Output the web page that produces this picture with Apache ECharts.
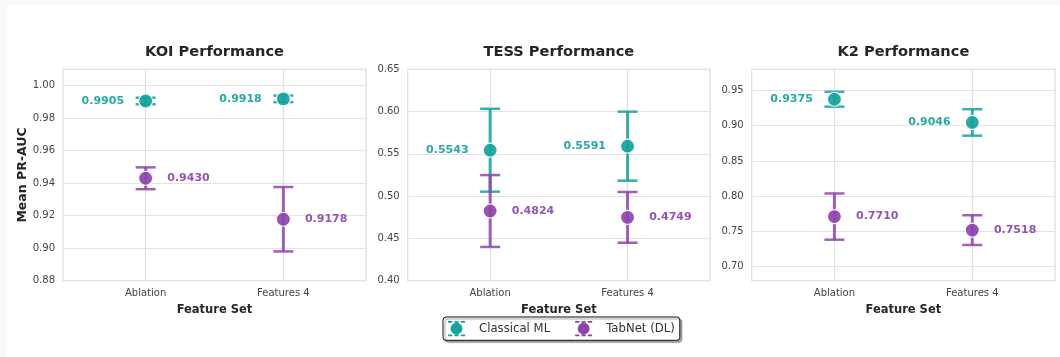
<!DOCTYPE html>
<html>
<head>
<meta charset="utf-8">
<script src="https://cdn.jsdelivr.net/npm/echarts@6/dist/echarts.min.js"></script>
<style>
  html, body { margin: 0; padding: 0; background: #f9f9f9; }
  #chart { position: absolute; left: 7px; top: 5px; width: 1053px; height: 352px; background: #ffffff; }
</style>
</head>
<body>
<div id="chart"></div>
<script>
// ---- data ----
const categories = ['Ablation', 'Features 4'];
const panelTitles = ['KOI Performance', 'TESS Performance', 'K2 Performance'];
const seriesNames = ['Classical ML', 'TabNet (DL)'];

const koiClassical = [0.9905, 0.9918];
const koiClassicalErr = [0.0020, 0.0020];
const koiTabnet = [0.9430, 0.9178];
const koiTabnetErr = [0.0067, 0.0198];

const tessClassical = [0.5543, 0.5591];
const tessClassicalErr = [0.0490, 0.0408];
const tessTabnet = [0.4824, 0.4749];
const tessTabnetErr = [0.0425, 0.0300];

const k2Classical = [0.9375, 0.9046];
const k2ClassicalErr = [0.0105, 0.0188];
const k2Tabnet = [0.7710, 0.7518];
const k2TabnetErr = [0.0328, 0.0211];

// y-axis ranges and tick steps: [min, max, step]
const koiYAxis = [0.88, 1.01, 0.02];
const tessYAxis = [0.40, 0.65, 0.05];
const k2YAxis = [0.68, 0.98, 0.05];

// ---- styling / layout ----
const TEAL = '#16a29d';
const PURPLE = '#8e44ad';
const FONT = 'DejaVu Sans';
const gridLefts = [56, 400.7, 744.7];
const gridWidths = [303, 302.3, 303.3];
const GRID_TOP = 64.3, GRID_H = 211.4;

const panels = [
  { cls: koiClassical, clsErr: koiClassicalErr, tab: koiTabnet, tabErr: koiTabnetErr, y: koiYAxis, fixedInterval: true },
  { cls: tessClassical, clsErr: tessClassicalErr, tab: tessTabnet, tabErr: tessTabnetErr, y: tessYAxis, fixedInterval: true },
  { cls: k2Classical, clsErr: k2ClassicalErr, tab: k2Tabnet, tabErr: k2TabnetErr, y: k2YAxis, fixedInterval: false }
];

const chart = echarts.init(document.getElementById('chart'), null, { renderer: 'canvas' });

const grids = [], xAxes = [], yAxes = [], titles = [], series = [];

function errRender(color) {
  return function (params, api) {
    const x = api.value(0), lo = api.value(1), hi = api.value(2);
    const pHi = api.coord([x, hi]);
    const pLo = api.coord([x, lo]);
    const cap = 10;
    return {
      type: 'group',
      children: [
        { type: 'line', shape: { x1: pHi[0], y1: pHi[1], x2: pLo[0], y2: pLo[1] }, style: { stroke: color, lineWidth: 3, opacity: 0.85 } },
        { type: 'line', shape: { x1: pHi[0] - cap, y1: pHi[1], x2: pHi[0] + cap, y2: pHi[1] }, style: { stroke: color, lineWidth: 2.5, opacity: 0.85 } },
        { type: 'line', shape: { x1: pLo[0] - cap, y1: pLo[1], x2: pLo[0] + cap, y2: pLo[1] }, style: { stroke: color, lineWidth: 2.5, opacity: 0.85 } }
      ]
    };
  };
}

panels.forEach((p, k) => {
  grids.push({ left: gridLefts[k], top: GRID_TOP, width: gridWidths[k], height: GRID_H,
    show: true, borderColor: '#dedede', borderWidth: 1.2, backgroundColor: 'transparent' });
  titles.push({ text: panelTitles[k], left: gridLefts[k] + gridWidths[k] / 2, top: 40, textAlign: 'center', padding: 0,
    textStyle: { fontFamily: FONT, fontSize: 14.6, fontWeight: 'bold', color: '#262626' } });
  xAxes.push({
    type: 'value', gridIndex: k, min: -0.6, max: 1.6, interval: 0.2,
    name: 'Feature Set', nameLocation: 'middle', nameGap: 18,
    nameTextStyle: { fontFamily: FONT, fontSize: 11.5, fontWeight: 'bold', color: '#262626' },
    axisLine: { show: false }, axisTick: { show: false }, splitLine: { show: false },
    axisLabel: { fontFamily: FONT, fontSize: 10, color: '#444', margin: 8,
      formatter: v => { const i = Math.round(v); return (Math.abs(v - i) < 1e-6 && categories[i]) ? categories[i] : ''; } }
  });
  const step = p.y[2];
  const yAx = {
    type: 'value', gridIndex: k, min: p.y[0], max: p.y[1],
    axisLine: { show: false }, axisTick: { show: false },
    splitLine: { show: true, lineStyle: { color: '#e3e3e3', width: 1.2 } },
    axisLabel: { fontFamily: FONT, fontSize: 10, color: '#444', margin: 8,
      formatter: v => { const r = Math.round(v / step); return Math.abs(v - r * step) < 1e-6 ? v.toFixed(2) : ''; } }
  };
  if (p.fixedInterval) yAx.interval = step;
  if (k === 0) {
    yAx.name = 'Mean PR-AUC';
    yAx.nameLocation = 'middle';
    yAx.nameGap = 33;
    yAx.nameTextStyle = { fontFamily: FONT, fontSize: 12.5, fontWeight: 'bold', color: '#262626' };
  }
  yAxes.push(yAx);

  const groups = [
    { name: seriesNames[0], vals: p.cls, errs: p.clsErr, color: TEAL, labelPos: 'left' },
    { name: seriesNames[1], vals: p.tab, errs: p.tabErr, color: PURPLE, labelPos: 'right' }
  ];
  groups.forEach((g, gi) => {
    const errSeries = {
      name: g.name, type: 'custom', xAxisIndex: k, yAxisIndex: k, silent: true,
      renderItem: errRender(g.color),
      encode: { x: 0, y: [1, 2] },
      data: categories.map((c, i) => [i, g.vals[i] - g.errs[i], g.vals[i] + g.errs[i]]),
      z: 2
    };
    if (gi === 0) {
      errSeries.markLine = {
        silent: true, symbol: 'none', label: { show: false },
        lineStyle: { color: '#e0e0e0', width: 1.2, type: 'solid' },
        data: categories.map((c, i) => ({ xAxis: i })),
        z: 1
      };
    }
    series.push(errSeries);
    series.push({
      name: g.name, type: 'scatter', xAxisIndex: k, yAxisIndex: k,
      symbol: 'circle', symbolSize: 14,
      itemStyle: { color: g.color, opacity: 0.92, borderColor: '#ffffff', borderWidth: 1.2 },
      label: { show: true, position: g.labelPos, distance: 14,
        formatter: d => d.value[1].toFixed(4),
        fontFamily: FONT, fontSize: 11, fontWeight: 'bold', color: g.color },
      data: categories.map((c, i) => [i, g.vals[i]]),
      z: 3
    });
  });
});

const legendIcon = 'path://M0,0h5v2h-5z M7.5,0h5v2h-5z M15,0h5v2h-5z M0,16h5v2h-5z M7.5,16h5v2h-5z M15,16h5v2h-5z M3,9a7,7 0 1,0 14,0a7,7 0 1,0 -14,0z';

chart.setOption({
  animation: false,
  backgroundColor: '#ffffff',
  title: titles,
  grid: grids,
  xAxis: xAxes,
  yAxis: yAxes,
  legend: {
    data: [
      { name: seriesNames[0], icon: legendIcon, itemStyle: { color: TEAL } },
      { name: seriesNames[1], icon: legendIcon, itemStyle: { color: PURPLE } }
    ],
    left: 436, top: 312,
    orient: 'horizontal',
    padding: [4, 5],
    itemWidth: 17, itemHeight: 16, itemGap: 25,
    borderColor: '#111', borderWidth: 1, borderRadius: 3,
    backgroundColor: '#ffffff',
    shadowColor: 'rgba(0,0,0,0.35)', shadowOffsetX: 2, shadowOffsetY: 2, shadowBlur: 1,
    textStyle: { fontFamily: FONT, fontSize: 11.7, color: '#333', padding: [0, 0, 0, 9] }
  },
  series: series
});
</script>
</body>
</html>
